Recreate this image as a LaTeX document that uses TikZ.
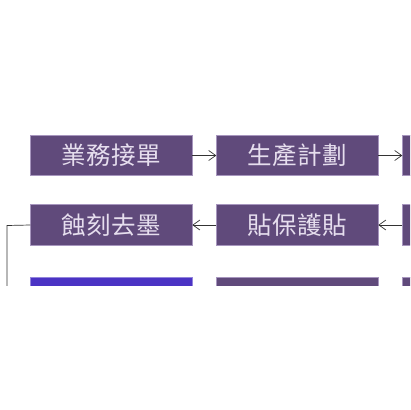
\documentclass[tikz,border=0pt]{standalone}
\usepackage{fontspec}
\newfontfamily\cjk[LetterSpace=3]{Noto Sans CJK TC}
\usepackage{xcolor}
\usetikzlibrary{positioning,arrows.meta}

\definecolor{stepfill}{HTML}{604A7B}
\definecolor{stepblue}{HTML}{4B33C4}
\definecolor{stepedge}{HTML}{A796BE}
\definecolor{steptext}{HTML}{E6DEEE}

\begin{document}
\begin{tikzpicture}[x=1pt, y=-1pt,
    stepbox/.style={draw=stepedge, line width=0.6pt, fill=stepfill,
      minimum width=162pt, minimum height=40.5pt, inner sep=0pt, outer sep=0pt,
      text=steptext, font=\cjk\fontsize{24.5}{24.5}\selectfont},
    flow/.style={draw=black!80, line width=0.7pt, -{Straight Barb[length=7pt, width=10pt]}},
    node distance=24pt and 24pt]

  % Window of the flow chart that is shown.
  \useasboundingbox (0,0) rectangle (410,410);
  \clip (0,0) rectangle (410,285);

  % First row: left to right.
  \node[stepbox] (order) at (111.3,155.5) {業務接單};
  \node[stepbox, right=of order] (plan) {生產計劃};
  \node[stepbox, right=of plan] (rowonenext) {};

  % Second row: right to left.
  \node[stepbox, below=29pt of order] (etch) {蝕刻去墨};
  \node[stepbox, right=of etch] (film) {貼保護貼};
  \node[stepbox, right=of film] (rowtwonext) {};

  % Third row.
  \node[stepbox, fill=stepblue, draw=stepblue!60!white, below=32pt of etch] (rowthreeleft) {};
  \node[stepbox, right=of rowthreeleft] (rowthreemid) {};
  \node[stepbox, right=of rowthreemid] (rowthreenext) {};

  % Connectors.
  \draw[flow] (order) -- (plan);
  \draw[flow] (plan) -- (rowonenext);
  \draw[flow] (rowtwonext) -- (film);
  \draw[flow] (film) -- (etch);

  \coordinate (turn) at (7,225.5);
  \coordinate (down) at (7,300);
  \draw[draw=black!80, line width=0.7pt] (etch.west) -- (turn) -- (down);
\end{tikzpicture}
\end{document}
